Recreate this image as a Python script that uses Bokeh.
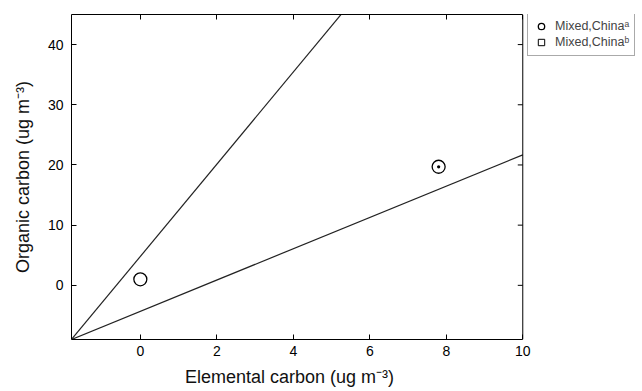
import math
from bokeh.plotting import figure
from bokeh.models import LinearAxis, Legend, LegendItem, FixedTicker, Range1d, Span
from bokeh.embed import file_html
from bokeh.resources import INLINE

# data
ec_a = [0.0]
oc_a = [1.0]
ec_b = [7.8]
oc_b = [19.7]
line_gradients = [7.66, 2.6]
line_intercepts = [4.8, -4.32]
x_ticks = [0, 2, 4, 6, 8, 10]
y_ticks = [0, 10, 20, 30, 40]
legend_labels = ["Mixed,China\u1d43", "Mixed,China\u1d47"]

X_MIN, X_MAX = -1.8, 10.0      # plotted box
Y_MIN, Y_MAX = -9.0, 45.0
X_VIEW_END = 13.0               # extra room on the right for the legend

FONT = "Liberation Sans"

p = figure(frame_width=566, frame_height=325, output_backend="svg", toolbar_location=None,
           x_range=Range1d(X_MIN, X_VIEW_END), y_range=Range1d(Y_MIN, Y_MAX),
           min_border_left=71, min_border_top=14, min_border_bottom=10, min_border_right=0)
p.xgrid.visible = False
p.ygrid.visible = False
p.outline_line_color = None
p.background_fill_color = "white"
p.border_fill_color = "white"

for ax in (p.xaxis[0], p.yaxis[0]):
    ax.major_tick_in = 5
    ax.major_tick_out = 0
    ax.minor_tick_in = 0
    ax.minor_tick_out = 0
    ax.axis_line_color = "black"
    ax.major_tick_line_color = "black"
    ax.major_label_text_font = FONT
    ax.major_label_text_font_size = "14px"
    ax.major_label_text_color = "black"
    ax.axis_label_text_font = FONT
    ax.axis_label_text_font_size = "18px"
    ax.axis_label_text_font_style = "normal"
    ax.axis_label_text_color = "#111111"

p.xaxis[0].ticker = FixedTicker(ticks=x_ticks)
p.xaxis[0].bounds = (X_MIN, X_MAX)
p.yaxis[0].ticker = FixedTicker(ticks=y_ticks)
# trailing no-break spaces keep the label centred under the plotted box
p.xaxis[0].axis_label = "Elemental carbon (ug m\u207b\u00b3)" + "\u00a0" * 26
p.yaxis[0].axis_label = "Organic carbon (ug m\u207b\u00b3)"
p.xaxis[0].major_label_standoff = 6
p.yaxis[0].major_label_standoff = 8
p.xaxis[0].axis_label_standoff = 8
p.yaxis[0].axis_label_standoff = 12

top = LinearAxis(ticker=FixedTicker(ticks=x_ticks), major_tick_in=5, major_tick_out=0,
                 minor_tick_in=0, minor_tick_out=0, bounds=(X_MIN, X_MAX),
                 major_label_overrides={t: "" for t in x_ticks},
                 major_label_standoff=0, axis_line_color="black")
p.add_layout(top, "above")

# right border of the box and its inward ticks
p.add_layout(Span(location=X_MAX, dimension="height", line_color="black", line_width=1))
p.ray(x=[X_MAX] * len(y_ticks), y=y_ticks, length=5, length_units="screen",
      angle=math.pi, line_color="black", line_width=1)

# reference lines y = g*x + b across the box
for g, b in zip(line_gradients, line_intercepts):
    p.line([X_MIN, X_MAX], [g * X_MIN + b, g * X_MAX + b], line_color="#222222", line_width=1.2)

ra = p.scatter(ec_a, oc_a, marker="circle", size=13, fill_color=None, line_color="black", line_width=1.3)
p.scatter(ec_b, oc_b, marker="circle_dot", size=13, fill_color=None, line_color="black", line_width=1.3)
sq = p.scatter([float("nan")], [float("nan")], marker="square", size=11, fill_color=None,
               line_color="black", line_width=1)

legend = Legend(items=[LegendItem(label=legend_labels[0], renderers=[ra]),
                       LegendItem(label=legend_labels[1], renderers=[sq])],
                location=(456, 283), label_text_font=FONT, label_text_font_size="12.5px",
                label_height=16, glyph_height=16, glyph_width=16, spacing=0,
                padding=5, margin=0, border_line_color="#555555", border_line_width=1.5,
                label_standoff=6)
p.add_layout(legend, "center")

open("out.html", "w").write(file_html(p, INLINE))
